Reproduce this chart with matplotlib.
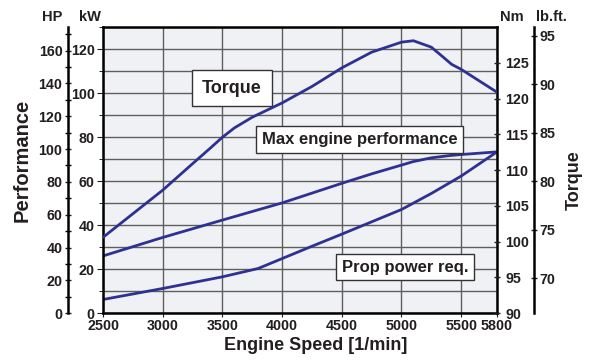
#!/usr/bin/env python
import matplotlib
matplotlib.use("Agg")
import matplotlib.pyplot as plt
from matplotlib.ticker import MultipleLocator

plt.rcParams["font.family"] = ["Liberation Sans", "DejaVu Sans"]
plt.rcParams["font.weight"] = "bold"

# torque curve (Nm) vs engine speed
rpm_torque = [2500, 2750, 3000, 3250, 3400, 3500, 3600, 3750, 4000, 4250, 4500, 4750, 5000, 5100, 5250, 5350, 5420, 5500, 5800]
torque_nm = [100.6, 103.9, 107.2, 110.9, 113.1, 114.6, 115.9, 117.4, 119.4, 121.7, 124.3, 126.5, 127.9, 128.1, 127.2, 125.8, 124.8, 124.1, 120.9]

# max engine performance (kW)
rpm_max = [2500, 3000, 3500, 4000, 4500, 4750, 5000, 5100, 5250, 5400, 5500, 5800]
max_kw = [26.0, 34.4, 42.3, 50.1, 59.0, 63.3, 67.3, 68.9, 70.6, 71.6, 72.1, 73.3]

# prop power requirement (kW)
rpm_prop = [2500, 3000, 3500, 3800, 4000, 4250, 4500, 5000, 5250, 5500, 5800]
prop_kw = [6.2, 11.2, 16.5, 20.3, 24.8, 30.4, 35.9, 47.1, 54.4, 62.3, 73.3]

x_ticks = [2500, 3000, 3500, 4000, 4500, 5000, 5500, 5800]

KW_TO_HP = 1.341
NM_TO_LBFT = 0.7376
KW_MAX = 130
NM_MIN, NM_MAX = 90, 130

line_col = "#2e3192"
txt_col = "#231f20"
tick_fs = 10.3


def style_side_axis(a, side):
    for s in ["top", "bottom", "left", "right"]:
        a.spines[s].set_visible(s == side)
    a.spines[side].set_linewidth(1.8)
    a.yaxis.set_ticks_position(side)
    a.tick_params(axis="y", which="major", length=4, width=1, direction="inout",
                  labelsize=tick_fs, colors=txt_col, pad=2)
    a.tick_params(axis="y", which="minor", length=4, width=1, direction="inout")


fig = plt.figure(figsize=(5.92, 3.62), dpi=100)
ax = fig.add_axes([0.174, 0.135, 0.6655, 0.79])
ax.set_facecolor("#f0f1f4")
ax.set_xlim(2500, 5800)
ax.set_ylim(0, KW_MAX)
ax.set_xticks(x_ticks)
ax.yaxis.set_major_locator(MultipleLocator(20))
ax.yaxis.set_minor_locator(MultipleLocator(10))
ax.grid(True, which="both", color="#5e5e5e", linewidth=1.0)
ax.set_axisbelow(True)
for s in ax.spines.values():
    s.set_linewidth(1.8)
ax.tick_params(axis="x", length=3, pad=1.5, labelsize=tick_fs, colors=txt_col)
ax.tick_params(axis="y", which="major", length=4, pad=2, labelsize=tick_fs, colors=txt_col)
ax.tick_params(axis="y", which="minor", length=3)

ax.plot(rpm_max, max_kw, color=line_col, lw=2.0, solid_joinstyle="round")
ax.plot(rpm_prop, prop_kw, color=line_col, lw=2.0, solid_joinstyle="round")

# HP axis, outside the kW one
ax_hp = ax.twinx()
ax_hp.spines["left"].set_position(("axes", -0.089))
style_side_axis(ax_hp, "left")
ax_hp.set_ylim(0, KW_MAX * KW_TO_HP)
ax_hp.yaxis.set_major_locator(MultipleLocator(20))
ax_hp.yaxis.set_minor_locator(MultipleLocator(10))

# Nm axis on the right of the plot
ax_nm = ax.twinx()
style_side_axis(ax_nm, "right")
ax_nm.spines["right"].set_visible(False)
ax_nm.set_ylim(NM_MIN, NM_MAX)
ax_nm.set_yticks(range(90, 130, 5))
ax_nm.tick_params(axis="y", pad=4)
ax_nm.plot(rpm_torque, torque_nm, color=line_col, lw=2.0, solid_joinstyle="round")

# lb.ft. axis, outside the Nm one
ax_lb = ax.twinx()
ax_lb.spines["right"].set_position(("axes", 1.094))
style_side_axis(ax_lb, "right")
ax_lb.set_ylim(NM_MIN * NM_TO_LBFT, NM_MAX * NM_TO_LBFT)
ax_lb.set_yticks(range(70, 100, 5))

# labels on the curves
box = dict(boxstyle="square,pad=0.35", fc="white", ec="#333333", lw=1)
ax.text(0.327, 0.787, "Torque", transform=ax.transAxes, ha="center", va="center",
        fontsize=13, color=txt_col, bbox=dict(box, boxstyle="square,pad=0.55"), zorder=5)
ax.text(0.651, 0.607, "Max engine performance", transform=ax.transAxes, ha="center",
        va="center", fontsize=12, color=txt_col, bbox=box, zorder=5)
ax.text(0.766, 0.161, "Prop power req.", transform=ax.transAxes, ha="center",
        va="center", fontsize=12, color=txt_col, bbox=box, zorder=5)

# axis headers and titles
fig.text(52 / 592, 1 - 17 / 362, "HP", ha="center", va="center", fontsize=10.5, color=txt_col)
fig.text(90 / 592, 1 - 17 / 362, "kW", ha="center", va="center", fontsize=10.5, color=txt_col)
fig.text(512 / 592, 1 - 17 / 362, "Nm", ha="center", va="center", fontsize=10.5, color=txt_col)
fig.text(551 / 592, 1 - 17 / 362, "lb.ft.", ha="center", va="center", fontsize=10.5, color=txt_col)
fig.text(22 / 592, 1 - 160 / 362, "Performance", rotation=90, ha="center", va="center",
         fontsize=14.5, color=txt_col)
fig.text(574 / 592, 1 - 180 / 362, "Torque", rotation=90, ha="center", va="center",
         fontsize=13, color=txt_col)
fig.text(316 / 592, 1 - 345 / 362, "Engine Speed [1/min]", ha="center", va="center",
         fontsize=13, color=txt_col)

fig.savefig("out.png", dpi=100)
plt.close(fig)
